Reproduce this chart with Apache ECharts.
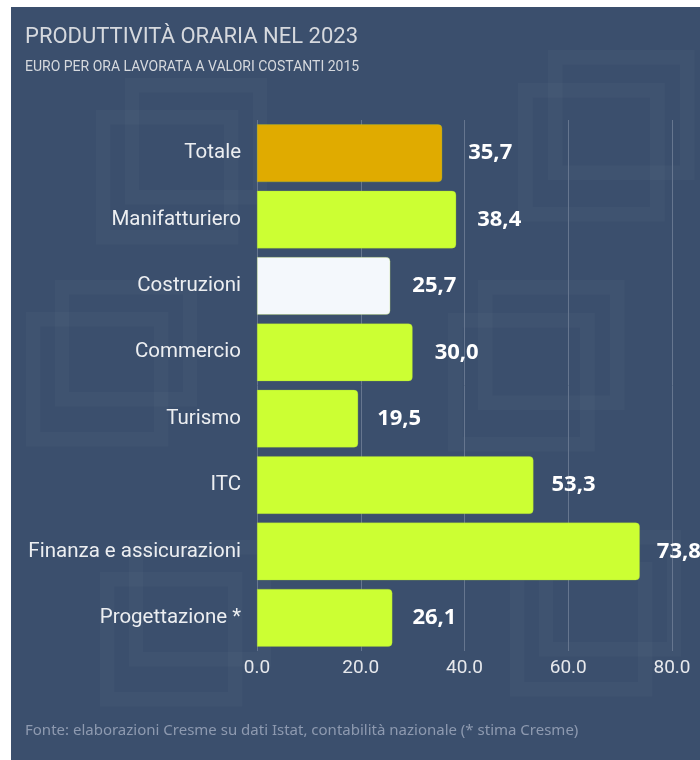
<!DOCTYPE html>
<html><head><meta charset="utf-8">
<script src="https://cdn.jsdelivr.net/npm/echarts@6/dist/echarts.min.js"></script>
<style>html,body{margin:0;padding:0;background:#fff}#c{width:700px;height:760px}</style>
</head><body><div id="c"></div>
<script>
const categories = ['Totale','Manifatturiero','Costruzioni','Commercio','Turismo','ITC','Finanza e assicurazioni','Progettazione *'];
const values = [35.7, 38.4, 25.7, 30.0, 19.5, 53.3, 73.8, 26.1];
const barColors = ['#e0ab00','#ccff33','#f4f8fc','#ccff33','#ccff33','#ccff33','#ccff33','#ccff33'];
const labelGaps = [26, 21, 22, 22, 19, 18, 17, 20];
const xTicks = [0, 20, 40, 60, 80];

// faint decorative watermark icons (background only)
function icon(x, y, s) {
  const st = {fill:'none', stroke:'rgba(255,255,255,0.025)', lineWidth:s*0.09};
  return [
    {type:'rect', left:x + s*0.18, top:y, shape:{width:s*0.8, height:s*0.7}, style:st, z:-5, silent:true},
    {type:'rect', left:x, top:y + s*0.2, shape:{width:s*0.8, height:s*0.75}, style:st, z:-5, silent:true}
  ];
}
const deco = [].concat(
  icon(96, 78, 160), icon(518, 50, 165), icon(26, 280, 160),
  icon(448, 280, 165), icon(100, 540, 160), icon(510, 530, 160)
);

const chart = echarts.init(document.getElementById('c'), null, {renderer:'canvas'});
chart.setOption({
  backgroundColor: '#fff',
  animation: false,
  graphic: [
    {type:'rect', left:11, top:7, shape:{width:689, height:753}, style:{fill:'#3b4f6d'}, z:-10, silent:true}
  ].concat(deco).concat([
    {type:'text', left:25, top:26, style:{text:'PRODUTTIVITÀ ORARIA NEL 2023', fill:'#d6d9de', font:'22px Roboto'}},
    {type:'text', left:25, top:60, style:{text:'EURO PER ORA LAVORATA A VALORI COSTANTI 2015', fill:'#d6d9de', font:'14px Roboto'}},
    {type:'text', left:25, top:723, style:{text:'Fonte: elaborazioni Cresme su dati Istat, contabilità nazionale (* stima Cresme)', fill:'#8e9ab0', font:'15px "Noto Sans"'}}
  ]),
  grid: {left:257, right:28, top:120, bottom:109, containLabel:false},
  xAxis: {
    type:'value', min:0, max:80, interval:20,
    axisLine:{show:false}, axisTick:{show:false},
    splitLine:{show:true, lineStyle:{color:'#66768f', width:1}},
    axisLabel:{color:'#e6e8ec', fontSize:19, fontFamily:'Roboto', margin:8,
      formatter: v => xTicks.includes(v) ? v.toFixed(1) : ''}
  },
  yAxis: {
    type:'category', data:categories, inverse:true,
    axisLine:{show:false}, axisTick:{show:false},
    axisLabel:{color:'#eceef1', fontSize:20.5, fontFamily:'Roboto', margin:16}
  },
  series: [{
    type:'bar', barWidth:'87%',
    data: values.map((v,i)=>({value:v, itemStyle:{color:barColors[i]}, label:{distance:labelGaps[i]}})),
    itemStyle:{borderRadius:[0,4,4,0], borderColor:'rgba(160,200,60,0.6)', borderWidth:0.5},
    label:{show:true, position:'right', color:'#ffffff', fontSize:22, fontWeight:'bold', fontFamily:'Open Sans',
      formatter: p => p.value.toFixed(1).replace('.', ',')}
  }]
});
</script></body></html>
